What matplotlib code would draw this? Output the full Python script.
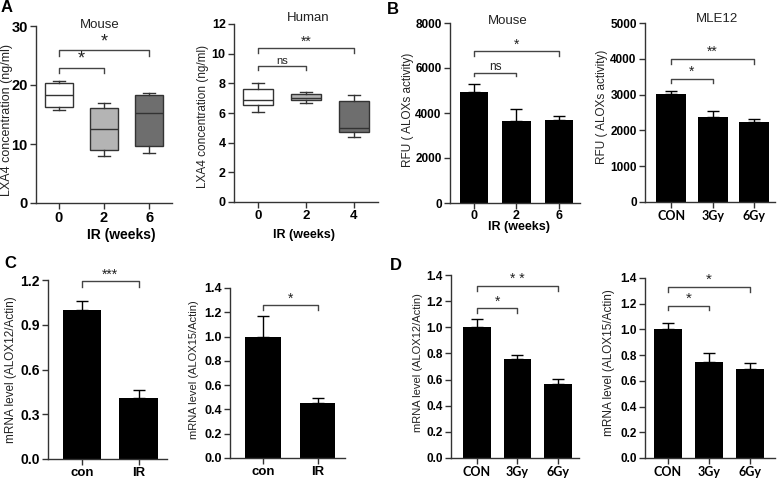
import matplotlib
matplotlib.use('Agg')
import matplotlib.pyplot as plt
import numpy as np

plt.rcParams['font.family'] = ['Liberation Sans', 'DejaVu Sans']

W, H = 777, 479

# ---- A: LXA4 box plots ----
mouse_lxa4_groups = ['0', '2', '6']
mouse_lxa4_whislo = [15.8, 7.9, 8.4]
mouse_lxa4_q1 = [16.3, 8.9, 9.7]
mouse_lxa4_med = [18.3, 12.6, 15.3]
mouse_lxa4_q3 = [20.3, 16.1, 18.3]
mouse_lxa4_whishi = [20.7, 17.0, 18.7]

human_lxa4_groups = ['0', '2', '4']
human_lxa4_whislo = [6.1, 6.7, 4.35]
human_lxa4_q1 = [6.55, 6.85, 4.75]
human_lxa4_med = [6.9, 7.0, 5.0]
human_lxa4_q3 = [7.65, 7.25, 6.8]
human_lxa4_whishi = [8.05, 7.4, 7.2]

box_colors = ['white', '#b4b4b4', '#6e6e6e']

# ---- B: ALOX activity ----
mouse_rfu_groups = ['0', '2', '6']
mouse_rfu = [4950, 3660, 3680]
mouse_rfu_err = [350, 520, 200]

mle12_groups = ['CON', '3Gy', '6Gy']
mle12_rfu = [3010, 2375, 2225]
mle12_rfu_err = [80, 175, 100]

# ---- C: mRNA con vs IR ----
c_groups = ['con', 'IR']
c_alox12 = [1.0, 0.41]
c_alox12_err = [0.06, 0.05]
c_alox15 = [1.0, 0.455]
c_alox15_err = [0.17, 0.04]

# ---- D: mRNA in MLE12 ----
d_groups = ['CON', '3Gy', '6Gy']
d_alox12 = [1.0, 0.756, 0.563]
d_alox12_err = [0.061, 0.033, 0.04]
d_alox15 = [1.0, 0.744, 0.693]
d_alox15_err = [0.05, 0.07, 0.048]

fig = plt.figure(figsize=(W / 100, H / 100), dpi=100)


def make_ax(x0, x1, ytop, ybot):
    ax = fig.add_axes([x0 / W, 1 - ybot / H, (x1 - x0) / W, (ybot - ytop) / H])
    ax.spines['top'].set_visible(False)
    ax.spines['right'].set_visible(False)
    for s in ('left', 'bottom'):
        ax.spines[s].set_linewidth(1.0)
        ax.spines[s].set_color('#333333')
    ax.tick_params(direction='out', length=4, width=1, color='#333333', pad=2)
    return ax


def set_ticks(ax, groups, yticks, ylabels, xsize, ysize, xfamily=None):
    ax.set_xticks(range(len(groups)))
    ax.set_xticklabels(groups, fontsize=xsize, fontweight='bold', family=xfamily)
    ax.set_yticks(yticks)
    ax.set_yticklabels(ylabels, fontsize=ysize, fontweight='bold')
    ax.set_ylim(yticks[0], yticks[-1])


def set_ylab(ax, text, fx, fy, size=8.5):
    ax.set_ylabel(text, fontsize=size, color='#222222')
    ax.yaxis.label.set_va('center')
    ax.yaxis.set_label_coords(fx, fy)


def set_xlab(ax, text, fx, fy, size=9):
    ax.set_xlabel(text, fontsize=size, fontweight='bold')
    ax.xaxis.label.set_va('center')
    ax.xaxis.set_label_coords(fx, fy)


def bracket(ax, x1, x2, y, h, text, size=11):
    ax.plot([x1, x1, x2, x2], [y - h, y, y, y - h], color='#444444', lw=1,
            clip_on=False)
    ax.text((x1 + x2) / 2, y, text, ha='center', va='bottom', fontsize=size,
            color='#222222')


def boxes(ax, lo, q1, med, q3, hi):
    stats = []
    for i in range(len(lo)):
        stats.append(dict(whislo=lo[i], q1=q1[i], med=med[i], q3=q3[i], whishi=hi[i]))
    bp = ax.bxp(stats, positions=range(len(lo)), widths=0.62, capwidths=0.26,
                showfliers=False, patch_artist=True,
                boxprops=dict(edgecolor='#333333', linewidth=1),
                medianprops=dict(color='#333333', linewidth=1),
                whiskerprops=dict(color='#333333', linewidth=1),
                capprops=dict(color='#333333', linewidth=1))
    for patch, c in zip(bp['boxes'], box_colors):
        patch.set_facecolor(c)


def bars(ax, vals, errs, width=0.67):
    x = np.arange(len(vals))
    ax.bar(x, vals, width, color='black', zorder=2)
    ax.errorbar(x, vals, yerr=[np.zeros(len(errs)), errs], fmt='none',
                ecolor='black', elinewidth=1, capsize=4, capthick=1, zorder=1)


# A left: Mouse LXA4
ax = make_ax(36, 172, 26, 203)
boxes(ax, mouse_lxa4_whislo, mouse_lxa4_q1, mouse_lxa4_med, mouse_lxa4_q3, mouse_lxa4_whishi)
set_ticks(ax, mouse_lxa4_groups, [0, 10, 20, 30], ['0', '10', '20', '30'], 10.5, 10.5)
ax.set_xlim(-0.5, 2.5)
set_ylab(ax, 'LXA4 concentration (ng/ml)', -0.215, 0.47, 9)
set_xlab(ax, 'IR (weeks)', 0.625, -0.18, 10)
bracket(ax, 0, 1, 22.9, 0.8, '*', 13)
bracket(ax, 0, 2, 25.9, 0.9, '*', 13)

# A right: Human LXA4
ax = make_ax(234, 378, 24, 202)
boxes(ax, human_lxa4_whislo, human_lxa4_q1, human_lxa4_med, human_lxa4_q3, human_lxa4_whishi)
set_ticks(ax, human_lxa4_groups, [0, 2, 4, 6, 8, 10, 12],
          ['0', '2', '4', '6', '8', '10', '12'], 9.5, 9)
ax.set_xlim(-0.5, 2.5)
set_ylab(ax, 'LXA4 concentration (ng/ml)', -0.215, 0.48, 8.5)
set_xlab(ax, 'IR (weeks)', 0.486, -0.185, 9)
bracket(ax, 0, 1, 9.2, 0.3, 'ns', 8)
bracket(ax, 0, 2, 10.35, 0.3, '**', 10)

# B left: Mouse RFU
ax = make_ax(450, 580, 23, 203)
bars(ax, mouse_rfu, mouse_rfu_err)
set_ticks(ax, mouse_rfu_groups, [0, 2000, 4000, 6000, 8000],
          ['0', '2000', '4000', '6000', '8000'], 9, 8.5)
ax.tick_params(axis='x', pad=1)
ax.set_xlim(-0.57, 2.5)
set_ylab(ax, 'RFU ( ALOXs activity)', -0.32, 0.52, 8.5)
set_xlab(ax, 'IR (weeks)', 0.53, -0.135, 9)
bracket(ax, 0, 1, 5780, 150, 'ns', 8.5)
bracket(ax, 0, 2, 6740, 200, '*', 10)

# B right: MLE12 RFU
ax = make_ax(645, 775, 23, 202)
bars(ax, mle12_rfu, mle12_rfu_err, 0.72)
set_ticks(ax, mle12_groups, [0, 1000, 2000, 3000, 4000, 5000],
          ['0', '1000', '2000', '3000', '4000', '5000'], 9, 8.5, ['Lato', 'DejaVu Sans'])
ax.set_xlim(-0.63, 2.5)
set_ylab(ax, 'RFU ( ALOXs activity)', -0.33, 0.53, 8.5)
bracket(ax, 0, 1, 3440, 120, '*', 10)
bracket(ax, 0, 2, 3990, 140, '**', 10)

# C left: ALOX12 con vs IR
ax = make_ax(48, 167, 280, 459)
bars(ax, c_alox12, c_alox12_err, 0.68)
set_ticks(ax, c_groups, [0, 0.3, 0.6, 0.9, 1.2], ['0.0', '0.3', '0.6', '0.9', '1.2'], 9.5, 10)
ax.set_xlim(-0.6, 1.5)
set_ylab(ax, 'mRNA level (ALOX12/Actin)', -0.31, 0.5, 8.5)
bracket(ax, 0, 1, 1.19, 0.04, '***', 10)

# C right: ALOX15 con vs IR
ax = make_ax(230, 345, 288, 458)
bars(ax, c_alox15, c_alox15_err, 0.65)
set_ticks(ax, c_groups, [0, 0.2, 0.4, 0.6, 0.8, 1.0, 1.2, 1.4],
          ['0.0', '0.2', '0.4', '0.6', '0.8', '1.0', '1.2', '1.4'], 9.5, 9)
ax.set_xlim(-0.6, 1.5)
set_ylab(ax, 'mRNA level (ALOX15/Actin)', -0.31, 0.52, 8)
bracket(ax, 0, 1, 1.257, 0.04, '*', 10)

# D left: ALOX12 MLE12
ax = make_ax(451, 579, 275, 458)
bars(ax, d_alox12, d_alox12_err, 0.68)
set_ticks(ax, d_groups, [0, 0.2, 0.4, 0.6, 0.8, 1.0, 1.2, 1.4],
          ['0.0', '0.2', '0.4', '0.6', '0.8', '1.0', '1.2', '1.4'], 9, 8.5, ['Lato', 'DejaVu Sans'])
ax.set_xlim(-0.64, 2.52)
set_ylab(ax, 'mRNA level (ALOX12/Actin)', -0.255, 0.52, 8)
bracket(ax, 0, 1, 1.145, 0.035, '*', 10)
bracket(ax, 0, 2, 1.316, 0.035, '* *', 10)

# D right: ALOX15 MLE12
ax = make_ax(645, 775, 278, 458)
bars(ax, d_alox15, d_alox15_err, 0.67)
set_ticks(ax, d_groups, [0, 0.2, 0.4, 0.6, 0.8, 1.0, 1.2, 1.4],
          ['0.0', '0.2', '0.4', '0.6', '0.8', '1.0', '1.2', '1.4'], 9, 8.5, ['Lato', 'DejaVu Sans'])
ax.set_xlim(-0.55, 2.6)
set_ylab(ax, 'mRNA level (ALOX15/Actin)', -0.28, 0.53, 8.5)
bracket(ax, 0, 1, 1.186, 0.035, '*', 11)
bracket(ax, 0, 2, 1.33, 0.04, '*', 11)

# titles and panel letters
for txt, x, y in [('Mouse', 100, 25), ('Human', 308, 18), ('Mouse', 508, 21), ('MLE12', 717, 19)]:
    fig.text(x / W, 1 - y / H, txt, ha='center', va='center', fontsize=9.5, color='#222222')
for txt, x, y in [('A', 7, 8), ('B', 393, 9), ('C', 10, 264), ('D', 396, 265)]:
    fig.text(x / W, 1 - y / H, txt, ha='center', va='center', fontsize=12, fontweight='bold')

fig.savefig('out.png', dpi=100)
